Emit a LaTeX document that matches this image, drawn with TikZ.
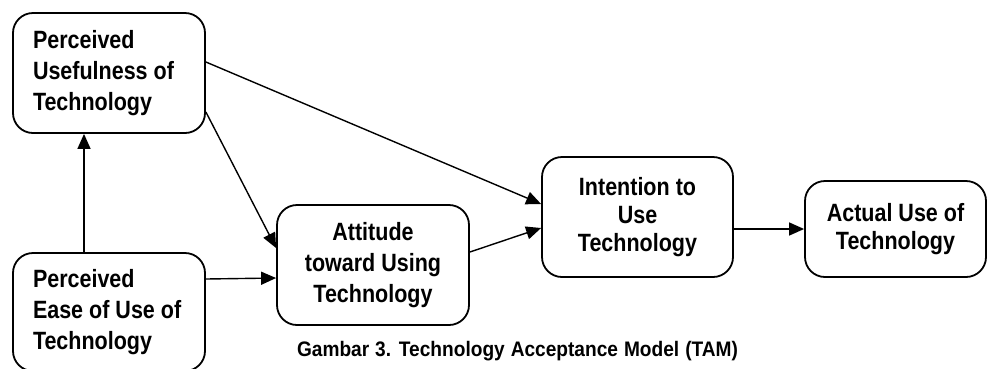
\documentclass[tikz,border=0pt]{standalone}
\usepackage{fontspec}
\newfontfamily\boxfont[FakeStretch=0.86]{Liberation Sans}
\newfontfamily\capfont[FakeStretch=0.91]{Liberation Sans}
\newcommand\tightsp{\spaceskip=6pt\relax\hbadness=10000\relax}
\usetikzlibrary{arrows.meta}
\tikzset{
  boxnode/.style={draw, line width=1.8pt, rounded corners=20pt, inner sep=0pt,
    font=\boxfont\bfseries\fontsize{25}{31}\selectfont},
  arr/.style={line width=1.4pt, -{Triangle[length=15pt,width=13pt]}}
}
\begin{document}
\begin{tikzpicture}[x=1pt,y=-1pt]
\useasboundingbox (0,0) rectangle (987,368);
\node[boxnode, minimum width=192pt, minimum height=120pt, text width=152pt, align=left] (PU) at (109,73) {\tightsp Perceived\\Usefulness~of\\Technology};
\node[boxnode, minimum width=192pt, minimum height=118pt, text width=152pt, align=left] (PEOU) at (109,312) {\tightsp Perceived\\Ease~of~Use~of\\Technology};
\node[boxnode, minimum width=192pt, minimum height=120pt, text width=180pt, align=center] (Att) at (373,265) {\tightsp Attitude\\toward Using\\Technology};
\node[boxnode, minimum width=191pt, minimum height=120pt, text width=180pt, align=center, font=\boxfont\bfseries\fontsize{25}{28}\selectfont] (Int) at (637.5,217) {\tightsp Intention to\\Use\\Technology};
\node[boxnode, minimum width=181pt, minimum height=96pt, text width=170pt, align=center, font=\boxfont\bfseries\fontsize{25}{28}\selectfont] (Act) at (895.5,229) {\tightsp Actual Use of\\Technology};
\node[font=\capfont\bfseries\fontsize{21}{25}\selectfont, inner sep=0pt] (cap) at (517.5,351) {\tightsp Gambar 3. Technology Acceptance Model (TAM)};
\draw[arr] ([xshift=-25pt]PEOU.north) -- ([xshift=-25pt]PU.south);
\draw[arr] ([yshift=11pt]PU.east) -- ([yshift=13pt]Int.west);
\draw[arr] ([yshift=-39pt]PU.east) -- ([yshift=17pt]Att.west);
\draw[arr] ([yshift=33pt]PEOU.east) -- ([yshift=-13pt]Att.west);
\draw[arr] ([yshift=13pt]Att.east) -- ([yshift=-11pt]Int.west);
\draw[arr] (Int.east |- Act.west) -- (Act.west);
\end{tikzpicture}
\end{document}
